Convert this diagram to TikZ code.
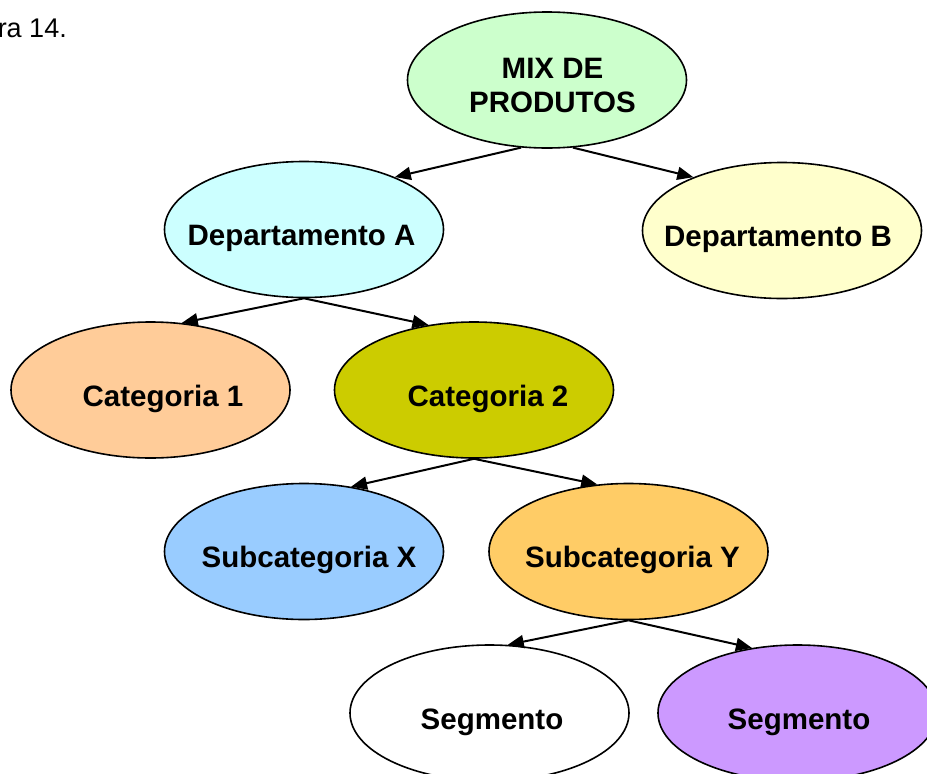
\documentclass[tikz,border=0pt]{standalone}
\usepackage{fontspec}
\setmainfont{Liberation Sans}
\usetikzlibrary{arrows.meta,shapes.geometric}

\definecolor{mixgreen}{HTML}{CCFFCC}
\definecolor{depacyan}{HTML}{CCFFFF}
\definecolor{depbyellow}{HTML}{FFFFCC}
\definecolor{catorange}{HTML}{FFCC99}
\definecolor{catolive}{HTML}{CCCC00}
\definecolor{subblue}{HTML}{99CCFF}
\definecolor{subgold}{HTML}{FFCC66}
\definecolor{segpurple}{HTML}{CC99FF}

\tikzset{
  bubble/.style={ellipse, draw=black, line width=1.6pt, inner sep=0pt,
                 minimum width=279pt, minimum height=136pt},
  bubbletext/.style={anchor=base, inner sep=0pt, align=center,
                     font=\fontsize{29.5}{34}\selectfont\bfseries},
  link/.style={draw=black, line width=2pt,
               -{Triangle[length=16pt,width=13pt]}}
}

\begin{document}
\begin{tikzpicture}[x=1pt,y=-1pt]
  \useasboundingbox (0,0) rectangle (927,774);
  \clip (0,0) rectangle (927,774);

  % caption fragment
  \node[anchor=base east, inner sep=0pt, font=\fontsize{27}{30}\selectfont] (cap) at (67,37) {ra 14.};

  % ellipses
  \node[bubble, fill=mixgreen]   (mix)  at (547,80)    {};
  \node[bubble, fill=depacyan]   (depa) at (304,229.5) {};
  \node[bubble, fill=depbyellow] (depb) at (782,230.5) {};
  \node[bubble, fill=catorange]  (cat1) at (150.5,390) {};
  \node[bubble, fill=catolive]   (cat2) at (474,390)   {};
  \node[bubble, fill=subblue]    (subx) at (304,551.5) {};
  \node[bubble, fill=subgold]    (suby) at (628.5,551.5) {};
  \node[bubble, fill=white]      (sega) at (489.5,713) {};
  \node[bubble, fill=segpurple]  (segb) at (797.5,713) {};

  % texts (a two-line node sits on the baseline of its last line)
  \node[bubbletext] (tmix)  at (552.5,112) {MIX DE\\PRODUTOS};
  \node[bubbletext] (tdepa) at (301.5,245.5) {Departamento A};
  \node[bubbletext] (tdepb) at (778,246.5) {Departamento B};
  \node[bubbletext] (tcat1) at (163,406)   {Categoria 1};
  \node[bubbletext] (tcat2) at (488,406)   {Categoria 2};
  \node[bubbletext] (tsubx) at (309,567.5) {Subcategoria X};
  \node[bubbletext] (tsuby) at (632.5,567.5) {Subcategoria Y};
  \node[bubbletext] (tsega) at (492,729)   {Segmento};
  \node[bubbletext] (tsegb) at (799,729)   {Segmento};

  % connectors
  \draw[link] (mix.249) -- (depa.30);
  \draw[link] (mix.291) -- (depb.149);
  \draw[link] (depa.south) -- (cat1.65);
  \draw[link] (depa.south) -- (cat2.125);
  \draw[link] (cat2.south) -- (subx.54);
  \draw[link] (cat2.south) -- (suby.115);
  \draw[link] (suby.south) -- (sega.75);
  \draw[link] (suby.south) -- (segb.125);
\end{tikzpicture}
\end{document}
